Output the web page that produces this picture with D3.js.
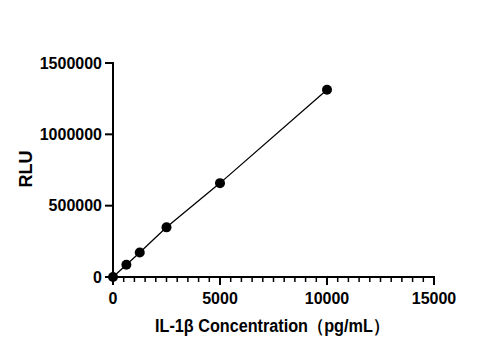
<!DOCTYPE html>
<html lang="en">
<head>
<meta charset="UTF-8">
<title>IL-1β standard curve</title>
<script src="https://cdn.jsdelivr.net/npm/d3@7"></script>
<style>
    html, body { margin: 0; padding: 0; background: #fff; }
    svg text { font-family: Arial, "Liberation Sans", sans-serif; font-weight: bold; fill: #000; }
</style>
</head>
<body>
<div id="chart"></div>
<script>
    // standard curve points
    const concentrations = [0, 625, 1250, 2500, 5000, 10000]
    const rlu = [0, 86000, 172000, 348000, 658000, 1312000]
    const xTicks = [0, 5000, 10000, 15000]
    const yTicks = [0, 500000, 1000000, 1500000]

    const width = 485, height = 350
    const margin = {top: 63, right: 51, bottom: 73, left: 113}

    const svg = d3.select('#chart').append('svg')
        .attr('width', width).attr('height', height)

    const x = d3.scaleLinear().domain([0, 15000]).range([margin.left, width - margin.right])
    const y = d3.scaleLinear().domain([0, 1500000]).range([height - margin.bottom, margin.top])

    // x axis with minor ticks every 500
    const minor = d3.range(0, 15001, 500).filter(v => v % 5000 !== 0)
    const gx = svg.append('g').attr('transform', `translate(0,${y(0)})`)
    gx.append('line').attr('x1', x(0) - 1).attr('x2', x(15000) + 1)
        .attr('stroke', '#000').attr('stroke-width', 2)
    gx.selectAll('line.minor').data(minor).join('line').classed('minor', true)
        .attr('x1', d => x(d)).attr('x2', d => x(d)).attr('y1', 0).attr('y2', 5)
        .attr('stroke', '#000').attr('stroke-width', 1.5)
    gx.selectAll('line.major').data(xTicks).join('line').classed('major', true)
        .attr('x1', d => x(d)).attr('x2', d => x(d)).attr('y1', 0).attr('y2', 8)
        .attr('stroke', '#000').attr('stroke-width', 2)
    gx.selectAll('text').data(xTicks).join('text')
        .attr('x', d => x(d)).attr('y', 27)
        .attr('text-anchor', 'middle').attr('font-size', 16)
        .text(d => d)

    // y axis
    const gy = svg.append('g').attr('transform', `translate(${x(0)},0)`)
    gy.append('line').attr('y1', y(1500000) - 1).attr('y2', y(0) + 1)
        .attr('stroke', '#000').attr('stroke-width', 2)
    gy.selectAll('line.tick').data(yTicks).join('line').classed('tick', true)
        .attr('x1', -8).attr('x2', 0).attr('y1', d => y(d)).attr('y2', d => y(d))
        .attr('stroke', '#000').attr('stroke-width', 2)
    gy.selectAll('text').data(yTicks).join('text')
        .attr('x', -11).attr('y', d => y(d)).attr('dy', '0.36em')
        .attr('text-anchor', 'end').attr('font-size', 16)
        .text(d => d)

    // titles
    svg.append('text')
        .attr('transform', `translate(32,${(y(0) + y(1500000)) / 2 - 1}) rotate(-90)`)
        .attr('text-anchor', 'middle').attr('font-size', 18)
        .text('RLU')
    svg.append('text')
        .attr('x', 155).attr('y', 332)
        .attr('font-size', 18)
        .attr('textLength', 234).attr('lengthAdjust', 'spacingAndGlyphs')
        .text('IL-1β Concentration（pg/mL）')

    const pts = concentrations.map((c, i) => [c, rlu[i]])

    svg.append('path').datum(pts)
        .attr('fill', 'none').attr('stroke', '#000').attr('stroke-width', 1.3)
        .attr('d', d3.line().x(d => x(d[0])).y(d => y(d[1])))

    svg.selectAll('circle').data(pts).join('circle')
        .attr('cx', d => x(d[0])).attr('cy', d => y(d[1])).attr('r', 5)
        .attr('fill', '#000')
</script>
</body>
</html>
